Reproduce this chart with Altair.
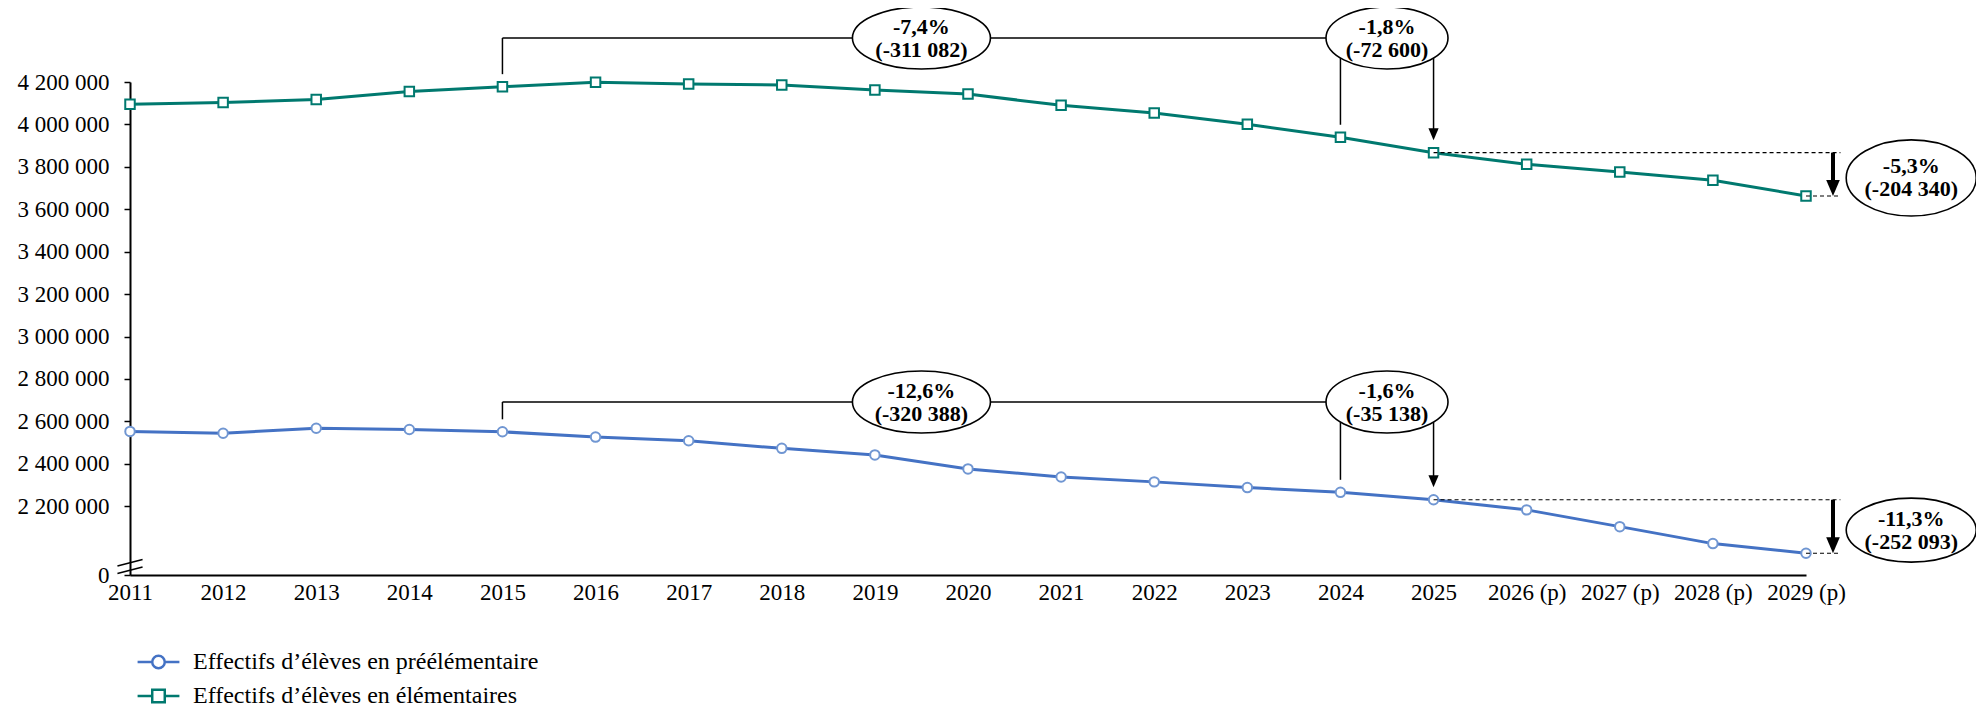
import altair as alt
import pandas as pd

# ---------------- data ----------------
years = ["2011", "2012", "2013", "2014", "2015", "2016", "2017", "2018", "2019",
         "2020", "2021", "2022", "2023", "2024", "2025",
         "2026 (p)", "2027 (p)", "2028 (p)", "2029 (p)"]

pre = [2553000, 2544000, 2568000, 2562000, 2551000, 2526000, 2509000, 2473000,
       2442000, 2376000, 2338000, 2315000, 2288000, 2265750, 2230612, 2183000,
       2104000, 2024000, 1978519]

elem = [4095000, 4103000, 4118000, 4155000, 4178000, 4199000, 4191000, 4186000,
        4162000, 4143000, 4090000, 4054000, 4001000, 3939518, 3866918, 3812000,
        3776000, 3737000, 3662578]

series_pre = "Effectifs d’élèves en préélémentaire"
series_elem = "Effectifs d’élèves en élémentaires"

y_ticks = [2200000, 2400000, 2600000, 2800000, 3000000, 3200000, 3400000,
           3600000, 3800000, 4000000, 4200000]
y_break = 1876000
y_top = 4200000

# annotation texts (percentage, absolute change)
txt_long = {"elem": ("-7,4%", "(-311 082)"), "pre": ("-12,6%", "(-320 388)")}
txt_short = {"elem": ("-1,8%", "(-72 600)"), "pre": ("-1,6%", "(-35 138)")}
txt_proj = {"elem": ("-5,3%", "(-204 340)"), "pre": ("-11,3%", "(-252 093)")}

# ---------------- styling / geometry ----------------
W, H = 1676, 493
PX = (y_top - y_break) / H          # value units per pixel
BLUE = "#4472C4"
BLUE_MK = "#7096D2"
TEAL = "#00796F"
FONT = "Liberation Serif"

i2015, i2024, i2025, i2029 = 4, 13, 14, 18
bracket_y = {"elem": y_top + 44 * PX, "pre": y_top - 320 * PX}
leg_gap = 12.5 * PX
vals = {"elem": elem, "pre": pre}

df = pd.DataFrame({
    "x": list(range(len(years))) * 2,
    "y": pre + elem,
    "series": [series_pre] * len(years) + [series_elem] * len(years),
})
df_pre = df[df.series == series_pre]
df_elem = df[df.series == series_elem]

xscale = alt.Scale(domain=[0, len(years) - 1], nice=False, zero=False)
yscale = alt.Scale(domain=[y_break, y_top], nice=False, zero=False)

label_arr = "[" + ",".join("'%s'" % y for y in years) + "]"
xaxis = alt.Axis(values=list(range(len(years))), labelExpr=label_arr + "[datum.value]",
                 ticks=False, grid=False, domainColor="black", domainWidth=2,
                 labelFont=FONT, labelFontSize=23, labelColor="black", labelPadding=6,
                 labelAngle=0, labelFlush=False, labelOverlap=False, title=None)
yaxis = alt.Axis(values=[y_break] + y_ticks,
                 labelExpr="datum.value < 1900000 ? '0' : replace(format(datum.value, ','), regexp(',', 'g'), ' ')",
                 grid=False, domainColor="black", domainWidth=2, tickColor="black",
                 tickWidth=1.5, tickSize=6, labelFont=FONT, labelFontSize=23,
                 labelColor="black", labelPadding=15, labelFlush=False, title=None)

X = alt.X("x:Q", scale=xscale, axis=xaxis)
Y = alt.Y("y:Q", scale=yscale, axis=yaxis)
X2 = alt.X2("x2:Q")
Y2 = alt.Y2("y2:Q")

layers = []
# lines
layers.append(alt.Chart(df_pre).mark_line(color=BLUE, strokeWidth=3).encode(x=X, y=Y))
layers.append(alt.Chart(df_elem).mark_line(color=TEAL, strokeWidth=3).encode(x=X, y=Y))
# markers
layers.append(alt.Chart(df_pre).mark_point(shape="circle", size=90, fill="white", fillOpacity=1,
                                            stroke=BLUE_MK, strokeWidth=2, opacity=1).encode(x=X, y=Y))
layers.append(alt.Chart(df_elem).mark_point(shape="square", size=90, fill="white", fillOpacity=1,
                                             stroke=TEAL, strokeWidth=2, opacity=1).encode(x=X, y=Y))

# ---------------- annotations ----------------
rules, dashed, small_heads, big_heads, thick = [], [], [], [], []
ell_mid, ell_short, ell_proj_e, ell_proj_p, texts = [], [], [], [], []
X_MID, X_SHORT, X_PROJ = 8.5, 13.5, 19.13
for key in ["elem", "pre"]:
    v = vals[key]
    b = bracket_y[key]
    # bracket
    rules.append({"x": i2015, "x2": i2025, "y": b, "y2": b})
    rules.append({"x": i2015, "x2": i2015, "y": b, "y2": v[i2015] + leg_gap})
    rules.append({"x": i2024, "x2": i2024, "y": b, "y2": v[i2024] + leg_gap})
    rules.append({"x": i2025, "x2": i2025, "y": b, "y2": v[i2025] + leg_gap + 6 * PX})
    small_heads.append({"x": i2025, "y": v[i2025] + leg_gap})
    # dashed reference lines
    dashed.append({"x": i2025, "x2": 18.37, "y": v[i2025], "y2": v[i2025]})
    dashed.append({"x": i2029, "x2": 18.37, "y": v[i2029], "y2": v[i2029]})
    # thick arrow
    thick.append({"x": 18.29, "x2": 18.29, "y": v[i2025], "y2": v[i2029] + 9 * PX})
    big_heads.append({"x": 18.29, "y": v[i2029]})
    # ellipses + text
    ell_mid.append({"x": X_MID, "y": b})
    ell_short.append({"x": X_SHORT, "y": b})
    mid = (v[i2025] + v[i2029]) / 2 - 3.6 * PX
    (ell_proj_e if key == "elem" else ell_proj_p).append({"x": X_PROJ, "y": mid})
    for xx, yy, tt in [(X_MID, b, txt_long[key]), (X_SHORT, b, txt_short[key]), (X_PROJ, mid, txt_proj[key])]:
        texts.append({"x": xx, "y": yy, "t1": tt[0], "t2": tt[1]})

layers.append(alt.Chart(pd.DataFrame(dashed)).mark_rule(color="black", strokeWidth=1.2, strokeDash=[4, 3])
              .encode(x=X, x2=X2, y=Y, y2=Y2))
layers.append(alt.Chart(pd.DataFrame(rules)).mark_rule(color="black", strokeWidth=1.5)
              .encode(x=X, x2=X2, y=Y, y2=Y2))
layers.append(alt.Chart(pd.DataFrame(thick)).mark_rule(color="black", strokeWidth=4)
              .encode(x=X, x2=X2, y=Y, y2=Y2))

HEAD = "M-0.85,-1L0.85,-1L0,1Z"
layers.append(alt.Chart(pd.DataFrame(small_heads)).mark_point(shape=HEAD, size=144, filled=True, color="black",
                                                               opacity=1, yOffset=-6).encode(x=X, y=Y))
layers.append(alt.Chart(pd.DataFrame(big_heads)).mark_point(shape=HEAD, size=256, filled=True, color="black",
                                                             opacity=1, yOffset=-8).encode(x=X, y=Y))


def ellipse(rows, w, h):
    r = h / w
    path = "M-1,0A1,%.3f,0,1,0,1,0A1,%.3f,0,1,0,-1,0Z" % (r, r)
    return alt.Chart(pd.DataFrame(rows)).mark_point(shape=path, size=w * w, fill="white", fillOpacity=1,
                                                     stroke="black", strokeWidth=1.6, opacity=1).encode(x=X, y=Y)


layers.append(ellipse(ell_mid, 138, 62))
layers.append(ellipse(ell_short, 122, 62))
layers.append(ellipse(ell_proj_e, 130, 76))
layers.append(ellipse(ell_proj_p, 130, 64))

tdf = pd.DataFrame(texts)
tstyle = dict(font=FONT, fontSize=22, fontWeight="bold", align="center", baseline="middle", color="black")
layers.append(alt.Chart(tdf).mark_text(dy=-11.5, **tstyle).encode(x=X, y=Y, text="t1:N"))
layers.append(alt.Chart(tdf).mark_text(dy=11.5, **tstyle).encode(x=X, y=Y, text="t2:N"))

# axis break marks
brk = pd.DataFrame([
    {"x": -0.135, "x2": 0.135, "y": y_break + 9 * PX, "y2": y_break + 15.5 * PX},
    {"x": -0.135, "x2": 0.135, "y": y_break + 1.5 * PX, "y2": y_break + 8 * PX},
])
layers.append(alt.Chart(brk).mark_rule(color="black", strokeWidth=1.5).encode(x=X, x2=X2, y=Y, y2=Y2))

# ---------------- legend ----------------
LEG_PRE = "M-1,0L-0.3,0M0.3,0L1,0M0.3,0A0.3,0.3,0,1,1,-0.3,0A0.3,0.3,0,1,1,0.3,0"
LEG_ELEM = "M-1,0L-0.3,0M0.3,0L1,0M-0.3,-0.3L0.3,-0.3L0.3,0.3L-0.3,0.3Z"
legend = alt.Legend(orient="none", legendX=6, legendY=563, title=None, direction="vertical",
                    labelFont=FONT, labelFontSize=24, labelColor="black", labelLimit=600,
                    symbolSize=1750, symbolStrokeWidth=2.5, symbolFillColor="white",
                    symbolOpacity=1, clipHeight=34, labelOffset=12, padding=0, rowPadding=0)
dom = [series_pre, series_elem]
layers.append(alt.Chart(df).mark_point(opacity=0).encode(
    x=X, y=Y,
    color=alt.Color("series:N", scale=alt.Scale(domain=dom, range=[BLUE, TEAL]), legend=legend, sort=dom),
    shape=alt.Shape("series:N", scale=alt.Scale(domain=dom, range=[LEG_PRE, LEG_ELEM]), legend=legend, sort=dom),
))

chart = alt.layer(*layers).properties(
    width=W, height=H,
    padding={"left": 122, "top": 74, "right": 170, "bottom": 140},
    autosize=alt.AutoSizeParams(type="none"),
).configure(background="white").configure_view(stroke=None)

chart.save("out.html", embed_options={"renderer": "svg", "actions": False})
